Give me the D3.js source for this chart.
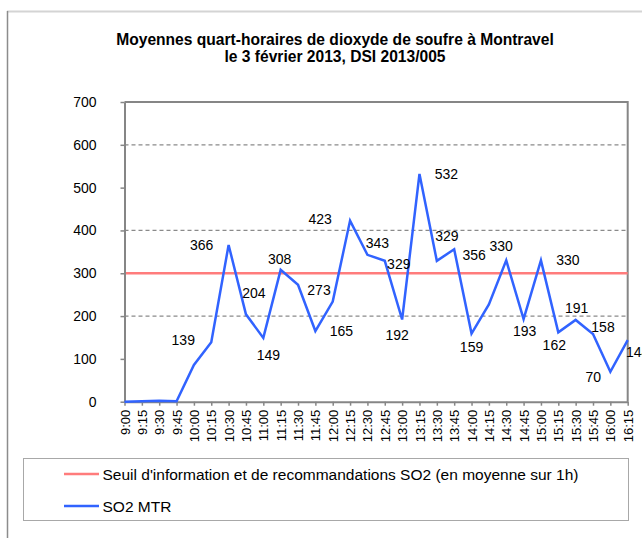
<!DOCTYPE html>
<html>
<head>
<meta charset="utf-8">
<script src="https://cdn.jsdelivr.net/npm/d3@7"></script>
<style>
  body { margin: 0; background: #fff; }
  svg text { font-family: "Liberation Sans", Arial, sans-serif; fill: #000; }
</style>
</head>
<body>
<svg id="chart" width="642" height="538"></svg>
<script>
const times = ['9:00', '9:15', '9:30', '9:45', '10:00', '10:15', '10:30', '10:45', '11:00', '11:15',
  '11:30', '11:45', '12:00', '12:15', '12:30', '12:45', '13:00', '13:15', '13:30', '13:45',
  '14:00', '14:15', '14:30', '14:45', '15:00', '15:15', '15:30', '15:45', '16:00', '16:15'];
const so2 = [0, 1, 2, 1, 86, 139, 366, 204, 149, 308,
  273, 165, 234, 423, 343, 329, 192, 532, 329, 356,
  159, 227, 330, 193, 330, 162, 191, 158, 70, 144];
const threshold = 300;
const yTicks = [0, 100, 200, 300, 400, 500, 600, 700];
const gridValues = [200, 400, 600];
const titleLines = ['Moyennes quart-horaires de dioxyde de soufre à Montravel', 'le 3 février 2013, DSI 2013/005'];
const legendNames = ["Seuil d'information et de recommandations SO2 (en moyenne sur 1h)", 'SO2 MTR'];

// label placement around each point (dx, dy), null = no label
const labelOffsets = [null, null, null, null, null, [-28, -2], [-27, 0], [8, -21], [5, 17], [-1, -11],
  [21, 5], [26, 0], null, [-30, -2], [10, -12], [14, 3], [-5, 15], [27, 0], [10, -25], [20, 6],
  [0, 13], null, [-5, -14], [1, 12], [27, 0], [-4, 13], [1, -12], [10, -7], [-17, 5], [10, 12]];

const red = '#ff7c7c';
const blue = '#3163ff';
const axisGrey = '#868686';

const svg = d3.select('#chart');

// chart frame
svg.append('line').attr('x1', 7).attr('x2', 642).attr('y1', 11.5).attr('y2', 11.5)
  .attr('stroke', '#d4d4d4').attr('stroke-width', 2);
svg.append('line').attr('x1', 7.5).attr('x2', 7.5).attr('y1', 11).attr('y2', 538)
  .attr('stroke', '#8c8c8c').attr('stroke-width', 1.5);

// title
svg.append('text')
  .attr('x', 335).attr('y', 45)
  .attr('text-anchor', 'middle')
  .style('font-size', '15.6px').style('font-weight', 'bold')
  .selectAll('tspan')
  .data(titleLines)
  .join('tspan')
  .attr('x', 335)
  .attr('dy', (d, i) => i === 0 ? 0 : 17)
  .text(d => d);

const x = d3.scalePoint().domain(times).range([124.5, 627.7]);
const y = d3.scaleLinear().domain([0, 700]).range([401.7, 102]);

const g = svg.append('g');

// dashed gridlines
g.selectAll('line.grid')
  .data(gridValues)
  .join('line')
  .attr('class', 'grid')
  .attr('x1', x.range()[0]).attr('x2', x.range()[1])
  .attr('y1', d => y(d)).attr('y2', d => y(d))
  .attr('stroke', '#8a8a8a').attr('stroke-width', 1.2)
  .attr('stroke-dasharray', '4,3');

// plot border (top, right)
g.append('path')
  .attr('d', `M${x.range()[0]},${y(700)}H${x.range()[1]}V${y(0)}`)
  .attr('fill', 'none').attr('stroke', axisGrey).attr('stroke-width', 2);

// threshold line
g.append('line')
  .attr('x1', x.range()[0]).attr('x2', x.range()[1])
  .attr('y1', y(threshold)).attr('y2', y(threshold))
  .attr('stroke', red).attr('stroke-width', 2.5);

// y axis
const yAxis = g.append('g')
  .attr('transform', `translate(${x.range()[0]},0)`)
  .call(d3.axisLeft(y).tickValues(yTicks).tickSize(4).tickPadding(24).tickSizeOuter(0));
yAxis.select('.domain').attr('stroke', axisGrey).attr('stroke-width', 2);
yAxis.selectAll('.tick line').attr('stroke', axisGrey).attr('stroke-width', 1.5);
yAxis.selectAll('.tick text')
  .style('font-size', '14px')
  .attr('font-family', null);

// x axis
const xAxis = g.append('g')
  .attr('transform', `translate(0,${y(0)})`)
  .call(d3.axisBottom(x).tickSize(4).tickSizeOuter(0));
xAxis.select('.domain').attr('stroke', axisGrey).attr('stroke-width', 2);
xAxis.selectAll('.tick line').attr('stroke', axisGrey).attr('stroke-width', 1.5);
xAxis.selectAll('.tick text')
  .attr('font-family', null)
  .style('font-size', '13px')
  .attr('text-anchor', 'end')
  .attr('transform', 'rotate(-90)')
  .attr('x', -8).attr('y', 0).attr('dy', '0.35em');

// SO2 line
const line = d3.line()
  .x((d, i) => x(times[i]))
  .y(d => y(d));

g.append('path')
  .datum(so2)
  .attr('d', line)
  .attr('fill', 'none')
  .attr('stroke', blue)
  .attr('stroke-width', 2.5)
  .attr('stroke-linejoin', 'miter');

// data labels
g.selectAll('text.lbl')
  .data(so2.map((v, i) => ({ v, i, off: labelOffsets[i] })).filter(d => d.off))
  .join('text')
  .attr('class', 'lbl')
  .attr('x', d => x(times[d.i]) + d.off[0])
  .attr('y', d => y(d.v) + d.off[1])
  .attr('dy', '0.36em')
  .attr('text-anchor', 'middle')
  .style('font-size', '14px')
  .text(d => d.v);

// legend
const legend = svg.append('g');
legend.append('rect')
  .attr('x', 23.5).attr('y', 458.5).attr('width', 605).attr('height', 62)
  .attr('fill', 'none').attr('stroke', '#a8a8a8').attr('stroke-width', 1);

const legendColors = [red, blue];
const legendItems = legend.selectAll('g.item')
  .data(legendNames)
  .join('g')
  .attr('class', 'item')
  .attr('transform', (d, i) => `translate(64,${474 + i * 32})`);

legendItems.append('line')
  .attr('x1', 0).attr('x2', 35)
  .attr('stroke', (d, i) => legendColors[i])
  .attr('stroke-width', 2.5);

legendItems.append('text')
  .attr('x', 38.5).attr('dy', '0.36em')
  .style('font-size', '15.5px')
  .text(d => d);
</script>
</body>
</html>
